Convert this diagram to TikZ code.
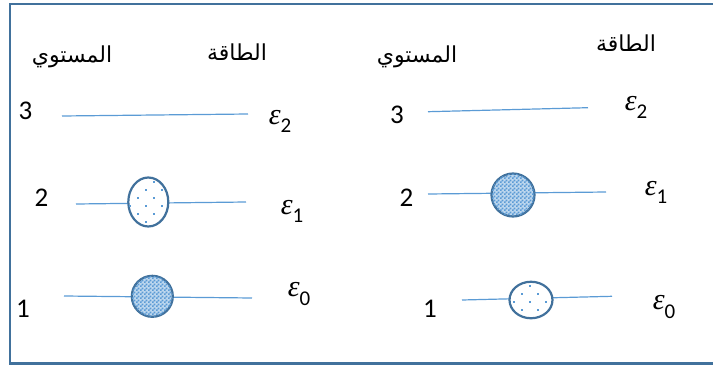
\documentclass[tikz,border=0pt]{standalone}
\usepackage{fontspec}
\setmainfont{Carlito}
\newfontfamily\arabicfont[Script=Arabic]{DejaVu Sans}
\newfontfamily\epsfont{Liberation Serif}
\TeXXeTstate=1
\usetikzlibrary{patterns,shapes.geometric}
\definecolor{frameblue}{HTML}{41719C}
\definecolor{lineblue}{HTML}{5B9BD5}
\pgfdeclarepatternformonly{mychecker}{\pgfpointorigin}{\pgfqpoint{4pt}{4pt}}{\pgfqpoint{4pt}{4pt}}{%
  \pgfpathrectangle{\pgfpointorigin}{\pgfqpoint{2pt}{2pt}}%
  \pgfpathrectangle{\pgfqpoint{2pt}{2pt}}{\pgfqpoint{2pt}{2pt}}%
  \pgfusepath{fill}}
\newcommand{\myeps}[1]{{\epsfont\itshape\fontsize{30}{32}\selectfont ε}\raisebox{-0.3em}{\fontsize{21}{22}\selectfont #1}}
\begin{document}
\begin{tikzpicture}[x=1pt,y=-1pt,
  level/.style={draw=lineblue,line width=1.2pt},
  num/.style={font=\fontsize{27}{30}\selectfont,inner sep=0pt},
  en/.style={font=\fontsize{27}{30}\selectfont,inner sep=0pt},
  ar/.style={font=\arabicfont\fontsize{22}{26}\selectfont,inner sep=0pt},
  fullball/.style={ellipse,draw=frameblue,line width=2.2pt,fill=lineblue!40!white,inner sep=0pt,
    postaction={pattern=mychecker,pattern color=lineblue}},
  sparseball/.style={ellipse,draw=frameblue,line width=2.2pt,fill=white,inner sep=0pt},
  dot/.style={fill=lineblue,minimum size=1.8pt,inner sep=0pt,rectangle}]
\useasboundingbox (0,0) rectangle (713,367);
\coordinate (fa) at (730,4);
\coordinate (fb) at (10,4);
\coordinate (fc) at (10,363.5);
\coordinate (fd) at (730,363.5);
\draw[frameblue,line width=2.8pt] (fa) -- (fb) -- (fc) -- (fd);

% ---------- left panel ----------
\node[ar] (arLlev) at (72,57) {\beginR المستوي\endR};
\node[ar] (arLen) at (237,52) {\beginR الطاقة\endR};

\node[num] (nL3) at (25.5,111) {3};
\node[num] (nL2) at (41.5,197.5) {2};
\node[num] (nL1) at (23,309) {1};

\coordinate (L3a) at (62,116); \coordinate (L3b) at (248,114);
\coordinate (L2a) at (76,204); \coordinate (L2b) at (246,202);
\coordinate (L1a) at (64,296); \coordinate (L1b) at (252,298);
\draw[level] (L3a) -- (L3b);
\draw[level] (L2a) -- (L2b);
\draw[level] (L1a) -- (L1b);

\node[sparseball,minimum width=40pt,minimum height=49pt] (bL2) at (148.3,202) {};
\foreach \dx/\dy [count=\k] in {8/-24,0/-16,16/-16,-8/-8,8/-8,-16/0,0/0,16/0,-8/8,8/8,0/16}
  \node[dot] (dL\k) at (146+\dx,205.7+\dy) {};
\node[fullball,minimum width=41pt,minimum height=41pt] (bL1) at (152.3,296.3) {};

\node[en] (eL2) at (280,121) {\myeps{2}};
\node[en] (eL1) at (292,211) {\myeps{1}};
\node[en] (eL0) at (299,294) {\myeps{0}};

% ---------- right panel ----------
\node[ar] (arRlev) at (417,57) {\beginR المستوي\endR};
\node[ar] (arRen) at (626,43) {\beginR الطاقة\endR};

\node[num] (nR3) at (397,114.5) {3};
\node[num] (nR2) at (406.5,197.5) {2};
\node[num] (nR1) at (430,308.5) {1};

\coordinate (R3a) at (428,111.7); \coordinate (R3b) at (588,107.7);
\coordinate (R2a) at (428,194); \coordinate (R2b) at (606,192);
\coordinate (R1a) at (462,300); \coordinate (R1b) at (612,296.3);
\draw[level] (R3a) -- (R3b);
\draw[level] (R2a) -- (R2b);
\draw[level] (R1a) -- (R1b);

\node[fullball,minimum width=43pt,minimum height=43pt] (bR2) at (513,195) {};
\node[sparseball,minimum width=43pt,minimum height=36.5pt] (bR1) at (531,300) {};
\foreach \dx/\dy [count=\k] in {0/-16,-8/-8,8/-8,-16/0,0/0,16/0,-8/8,8/8}
  \node[dot] (dR\k) at (530+\dx,302+\dy) {};

\node[en] (eR2) at (636,107) {\myeps{2}};
\node[en] (eR1) at (656,192) {\myeps{1}};
\node[en] (eR0) at (664,307) {\myeps{0}};
\end{tikzpicture}
\end{document}
